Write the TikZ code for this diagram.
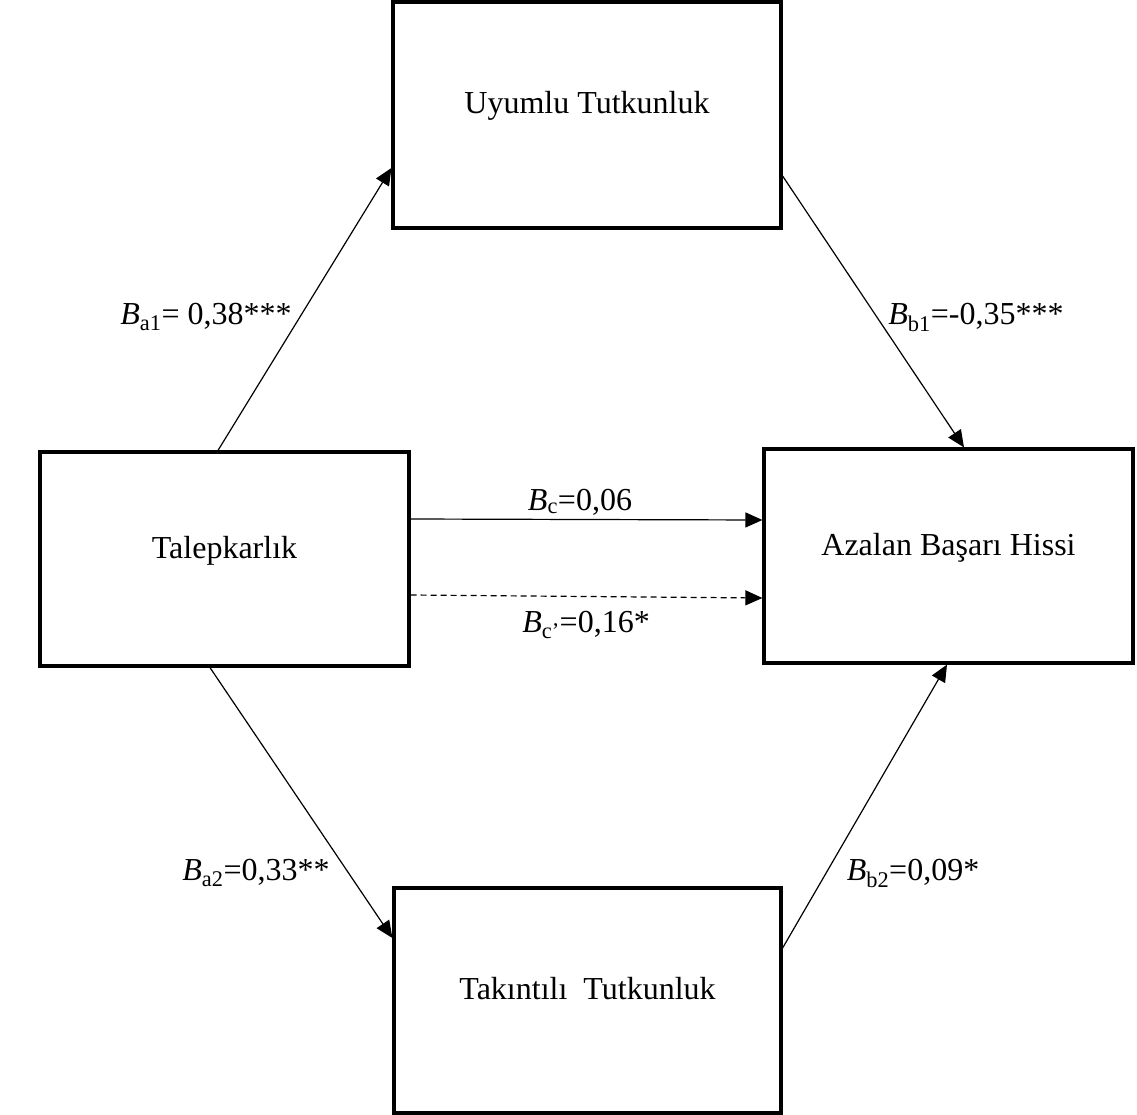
\documentclass[tikz,border=0pt]{standalone}
\usepackage{fontspec}
\setmainfont{Liberation Serif}
\usetikzlibrary{arrows.meta}

\tikzset{
    box/.style={draw, rectangle, line width=3.2pt, inner sep=0pt, text height=22pt, text depth=24pt},
    link/.style={-{Triangle[length=17pt, width=15pt]}, line width=1.2pt},
    coef/.style={inner sep=0pt}
}

\begin{document}
\begin{tikzpicture}[x=1pt, y=-1pt, every node/.style={font=\fontsize{32}{38}\selectfont}]

    \useasboundingbox (0,0) rectangle (1137,1115);

    % \node(start)[box]{...};
    \node(tal)[box, minimum width=369pt, minimum height=214pt] at (224.5,559){Talepkarlık};
    \node(uyu)[box, minimum width=388pt, minimum height=226pt] at (587,115){Uyumlu Tutkunluk};
    \node(azl)[box, minimum width=369pt, minimum height=214pt] at (948.5,556){Azalan Başarı Hissi};
    \node(tak)[box, minimum width=387pt, minimum height=225pt] at (587.5,1000.5){Takıntılı\ \ Tutkunluk};

    \draw[link] ([xshift=-6.5pt]tal.north) -- ([yshift=-53pt]uyu.west);
    \draw[link] ([yshift=-61pt]uyu.east) -- ([xshift=15.5pt]azl.north);
    \draw[link] ([yshift=40pt]tal.east) -- ([yshift=36pt]azl.west);
    \draw[link, dash pattern=on 6pt off 4pt] ([yshift=-36pt]tal.east) -- ([yshift=-42pt]azl.west);
    \draw[link] ([xshift=-14.5pt]tal.south) -- ([yshift=62.5pt]tak.west);
    \draw[link] ([yshift=52.5pt]tak.east) -- ([xshift=-1.5pt]azl.south);

    \node(la1)[coef] at (206,317){\textit{B}\textsubscript{a1}= 0,38***};
    \node(lb1)[coef] at (976,317){\textit{B}\textsubscript{b1}=-0,35***};
    \node(lc)[coef] at (580,502){\textit{B}\textsubscript{c}=0,06};
    \node(lcp)[coef] at (586,625){\textit{B}\textsubscript{c’}=0,16*};
    \node(la2)[coef] at (256,873){\textit{B}\textsubscript{a2}=0,33**};
    \node(lb2)[coef] at (913,873){\textit{B}\textsubscript{b2}=0,09*};


\end{tikzpicture}
\end{document}
